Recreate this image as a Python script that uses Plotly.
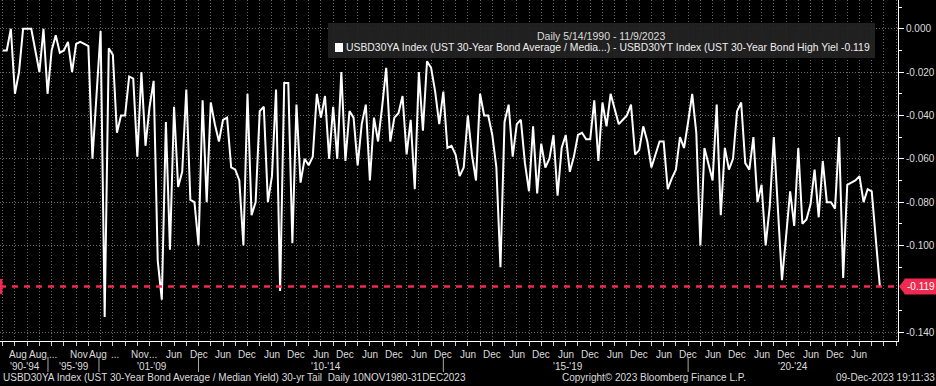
import plotly.graph_objects as go

# ---- data: auction tail (bp fraction), one point per auction, May-1990 .. Nov-2023 ----
values = [
    -0.010, -0.010, 0.000, -0.030, -0.020, 0.000, 0.000, 0.000, -0.010, -0.020,
    0.000, -0.030, -0.010, -0.003, -0.011, -0.010, -0.006, -0.020, -0.007, -0.006,
    -0.007, -0.008, -0.060, -0.030, -0.001, -0.133, -0.009, -0.012, -0.048, -0.040,
    -0.040, -0.022, -0.023, -0.059, -0.020, -0.054, -0.036, -0.024, -0.107, -0.125,
    -0.043, -0.102, -0.036, -0.073, -0.066, -0.028, -0.079, -0.080, -0.100, -0.033,
    -0.080, -0.034, -0.044, -0.052, -0.042, -0.041, -0.064, -0.065, -0.070, -0.100,
    -0.030, -0.086, -0.080, -0.038, -0.036, -0.080, -0.068, -0.028, -0.121, -0.025,
    -0.025, -0.099, -0.035, -0.071, -0.060, -0.063, -0.059, -0.030, -0.041, -0.031,
    -0.060, -0.036, -0.060, -0.020, -0.061, -0.038, -0.041, -0.063, -0.044, -0.035,
    -0.070, -0.041, -0.052, -0.036, -0.018, -0.052, -0.041, -0.039, -0.031, -0.058,
    -0.042, -0.074, -0.020, -0.047, -0.015, -0.018, -0.029, -0.044, -0.029, -0.055,
    -0.054, -0.058, -0.068, -0.064, -0.040, -0.058, -0.070, -0.030, -0.040, -0.040,
    -0.049, -0.064, -0.110, -0.043, -0.035, -0.059, -0.044, -0.042, -0.062, -0.075,
    -0.045, -0.076, -0.053, -0.064, -0.060, -0.049, -0.077, -0.055, -0.049, -0.066,
    -0.059, -0.049, -0.048, -0.051, -0.051, -0.033, -0.061, -0.034, -0.045, -0.030,
    -0.037, -0.044, -0.042, -0.040, -0.035, -0.058, -0.056, -0.045, -0.052, -0.064,
    -0.058, -0.052, -0.052, -0.074, -0.069, -0.065, -0.050, -0.055, -0.043, -0.030,
    -0.048, -0.100, -0.055, -0.062, -0.070, -0.035, -0.086, -0.055, -0.065, -0.060,
    -0.038, -0.034, -0.062, -0.065, -0.050, -0.080, -0.072, -0.100, -0.082, -0.050,
    -0.084, -0.116, -0.096, -0.075, -0.091, -0.055, -0.090, -0.088, -0.081, -0.065,
    -0.087, -0.061, -0.080, -0.080, -0.083, -0.050, -0.115, -0.072, -0.071, -0.070,
    -0.068, -0.080, -0.074, -0.075, -0.097, -0.119,
]

# x-axis label rows (positions are auction indices)
early_month_pos = [3.7, 8.6, 12.3, 18.7, 23.4, 27.5, 33.6, 36.8]
early_month_text = ["Aug", "Aug", "...", "Nov", "Aug", "...", "Nov", "..."]
first_jun_index = 42          # Jun-2009
n_jun_labels = 15
n_dec_labels = 14
year_group_text = ["'90-'94", "'95-'99", "'01-'09", "'10-'14", "'15-'19", "'20-'24"]
year_group_pos = [5.5, 17.5, 36.6, 79.2, 138.5, 193.7]
year_sep_pos = [11.1, 23.6, 48, 108, 168]

y_tick_vals = [0.0, -0.02, -0.04, -0.06, -0.08, -0.10, -0.14]

legend_title = "Daily 5/14/1990 - 11/9/2023"
series_name = ("USBD30YA Index (UST 30-Year Bond Average / Media...) - "
               "USBD30YT Index (UST 30-Year Bond High Yiel")
footer_left = "USBD30YA Index (UST 30-Year Bond Average / Median Yield) 30-yr Tail  Daily 10NOV1980-31DEC2023"
footer_mid = "Copyright\u00a9 2023 Bloomberg Finance L.P."
footer_right = "09-Dec-2023 19:11:33"

# ---- styling ----
W, H = 936, 386
PL, PR, PT, PB = 0, 38, 0, 45
PW = W - PL - PR
PH = H - PT - PB
FONT = "Liberation Sans, Arial, sans-serif"
TXT = "#dcdcdc"
RED = "#f2294e"
GRID = "#6a6a6a"

last = values[-1]
x = list(range(len(values)))

fig = go.Figure()
fig.add_trace(go.Scatter(x=x, y=values, mode="lines",
                         line=dict(color="white", width=2),
                         hoverinfo="skip", showlegend=False))

def px2paper(p):
    return (p - PL) / PW

def py2paper(p):
    return 1 - (p - PT) / PH

shapes = []
# red dashed line at last value
shapes.append(dict(type="line", xref="paper", yref="y", x0=0, x1=1, y0=last, y1=last,
                   line=dict(color=RED, width=2.5, dash="6px,6px"), layer="above"))
# left marker
shapes.append(dict(type="line", xref="paper", yref="y", x0=0.001, x1=0.001,
                   y0=last - 0.0035, y1=last + 0.0035,
                   line=dict(color=RED, width=3), layer="above"))
# arrow notch of the value label
d = 0.0035
shapes.append(dict(type="path", xref="paper", yref="y",
                   path=f"M {px2paper(899)} {last} L {px2paper(905)} {last + d} L {px2paper(905)} {last - d} Z",
                   fillcolor=RED, line=dict(width=0), layer="above"))
# legend box
shapes.append(dict(type="rect", xref="paper", yref="paper",
                   x0=px2paper(328), x1=px2paper(875),
                   y0=py2paper(58), y1=py2paper(23),
                   fillcolor="rgba(34,34,34,0.93)", line=dict(width=0), layer="above"))
# legend swatch
shapes.append(dict(type="rect", xref="paper", yref="paper",
                   x0=px2paper(335), x1=px2paper(343),
                   y0=py2paper(52), y1=py2paper(43),
                   fillcolor="white", line=dict(width=0), layer="above"))
# year group separators
for s in year_sep_pos:
    shapes.append(dict(type="line", xref="x", yref="paper", x0=s, x1=s,
                       y0=py2paper(357), y1=py2paper(372),
                       line=dict(color="#aaaaaa", width=1)))

ann = []
# month labels
month_pos = list(early_month_pos)
month_text = list(early_month_text)
for k in range(max(n_jun_labels, n_dec_labels)):
    if k < n_jun_labels:
        month_pos.append(first_jun_index + 12 * k)
        month_text.append("Jun")
    if k < n_dec_labels:
        month_pos.append(first_jun_index + 6 + 12 * k)
        month_text.append("Dec")
for p, t in zip(month_pos, month_text):
    ann.append(dict(x=p, y=py2paper(354), xref="x", yref="paper", text=t, showarrow=False,
                    yanchor="middle", xanchor="center",
                    font=dict(family=FONT, size=10, color=TXT)))
for p, t in zip(year_group_pos, year_group_text):
    ann.append(dict(x=p, y=py2paper(366), xref="x", yref="paper", text=t, showarrow=False,
                    yanchor="middle", xanchor="center",
                    font=dict(family=FONT, size=10, color=TXT)))
# footer
ann.append(dict(x=px2paper(1), y=py2paper(378), xref="paper", yref="paper", text=footer_left,
                showarrow=False, xanchor="left", yanchor="middle",
                font=dict(family=FONT, size=10, color=TXT)))
ann.append(dict(x=px2paper(654), y=py2paper(378), xref="paper", yref="paper", text=footer_mid,
                showarrow=False, xanchor="center", yanchor="middle",
                font=dict(family=FONT, size=10, color=TXT)))
ann.append(dict(x=px2paper(937), y=py2paper(378), xref="paper", yref="paper", text=footer_right,
                showarrow=False, xanchor="right", yanchor="middle",
                font=dict(family=FONT, size=10, color=TXT)))
# legend texts
ann.append(dict(x=px2paper(601), y=py2paper(36), xref="paper", yref="paper",
                text=legend_title, showarrow=False, xanchor="center", yanchor="middle",
                font=dict(family=FONT, size=10.5, color=TXT)))
ann.append(dict(x=px2paper(344), y=py2paper(48), xref="paper", yref="paper",
                text=f"{series_name} {last:.3f}", showarrow=False, xanchor="left",
                yanchor="middle", font=dict(family=FONT, size=10.4, color="#eeeeee")))
# last value label
ann.append(dict(x=px2paper(904), y=last, xref="paper", yref="y",
                text=f"{last:.3f}", showarrow=False, xanchor="left", yanchor="middle",
                bgcolor=RED, borderpad=2,
                font=dict(family=FONT, size=10, color="white")))

fig.update_layout(
    width=W, height=H,
    margin=dict(l=PL, r=PR, t=PT, b=PB, autoexpand=False),
    paper_bgcolor="black", plot_bgcolor="black",
    shapes=shapes, annotations=ann, showlegend=False,
    xaxis=dict(range=[-0.66, 219.44], tickmode="array",
               tickvals=list(range(0, 220, 3)), ticktext=[""] * len(range(0, 220, 3)),
               ticks="outside", ticklen=4, tickcolor="#cccccc",
               showgrid=True, gridcolor=GRID, griddash="1px,2px", gridwidth=1,
               showline=True, linecolor="white", linewidth=1,
               zeroline=False, fixedrange=True, automargin=False),
    yaxis=dict(range=[-0.1441, 0.0133], side="right", tickmode="array",
               tickvals=y_tick_vals, ticktext=[f"{v:.3f}" for v in y_tick_vals],
               ticks="outside", ticklen=5, tickcolor="white",
               tickfont=dict(family=FONT, size=10, color=TXT),
               minor=dict(tickmode="array",
                          tickvals=[0.01, -0.01, -0.03, -0.05, -0.07, -0.09, -0.11, -0.13],
                          ticks="outside", ticklen=3, tickcolor="white", showgrid=False),
               showgrid=True, gridcolor=GRID, griddash="1px,2px", gridwidth=1,
               showline=True, linecolor="white", linewidth=1,
               zeroline=False, fixedrange=True, automargin=False),
)

fig.write_html("out.html", config={"displayModeBar": False},
               post_script="document.body.style.margin='0';document.body.style.background='black';")
